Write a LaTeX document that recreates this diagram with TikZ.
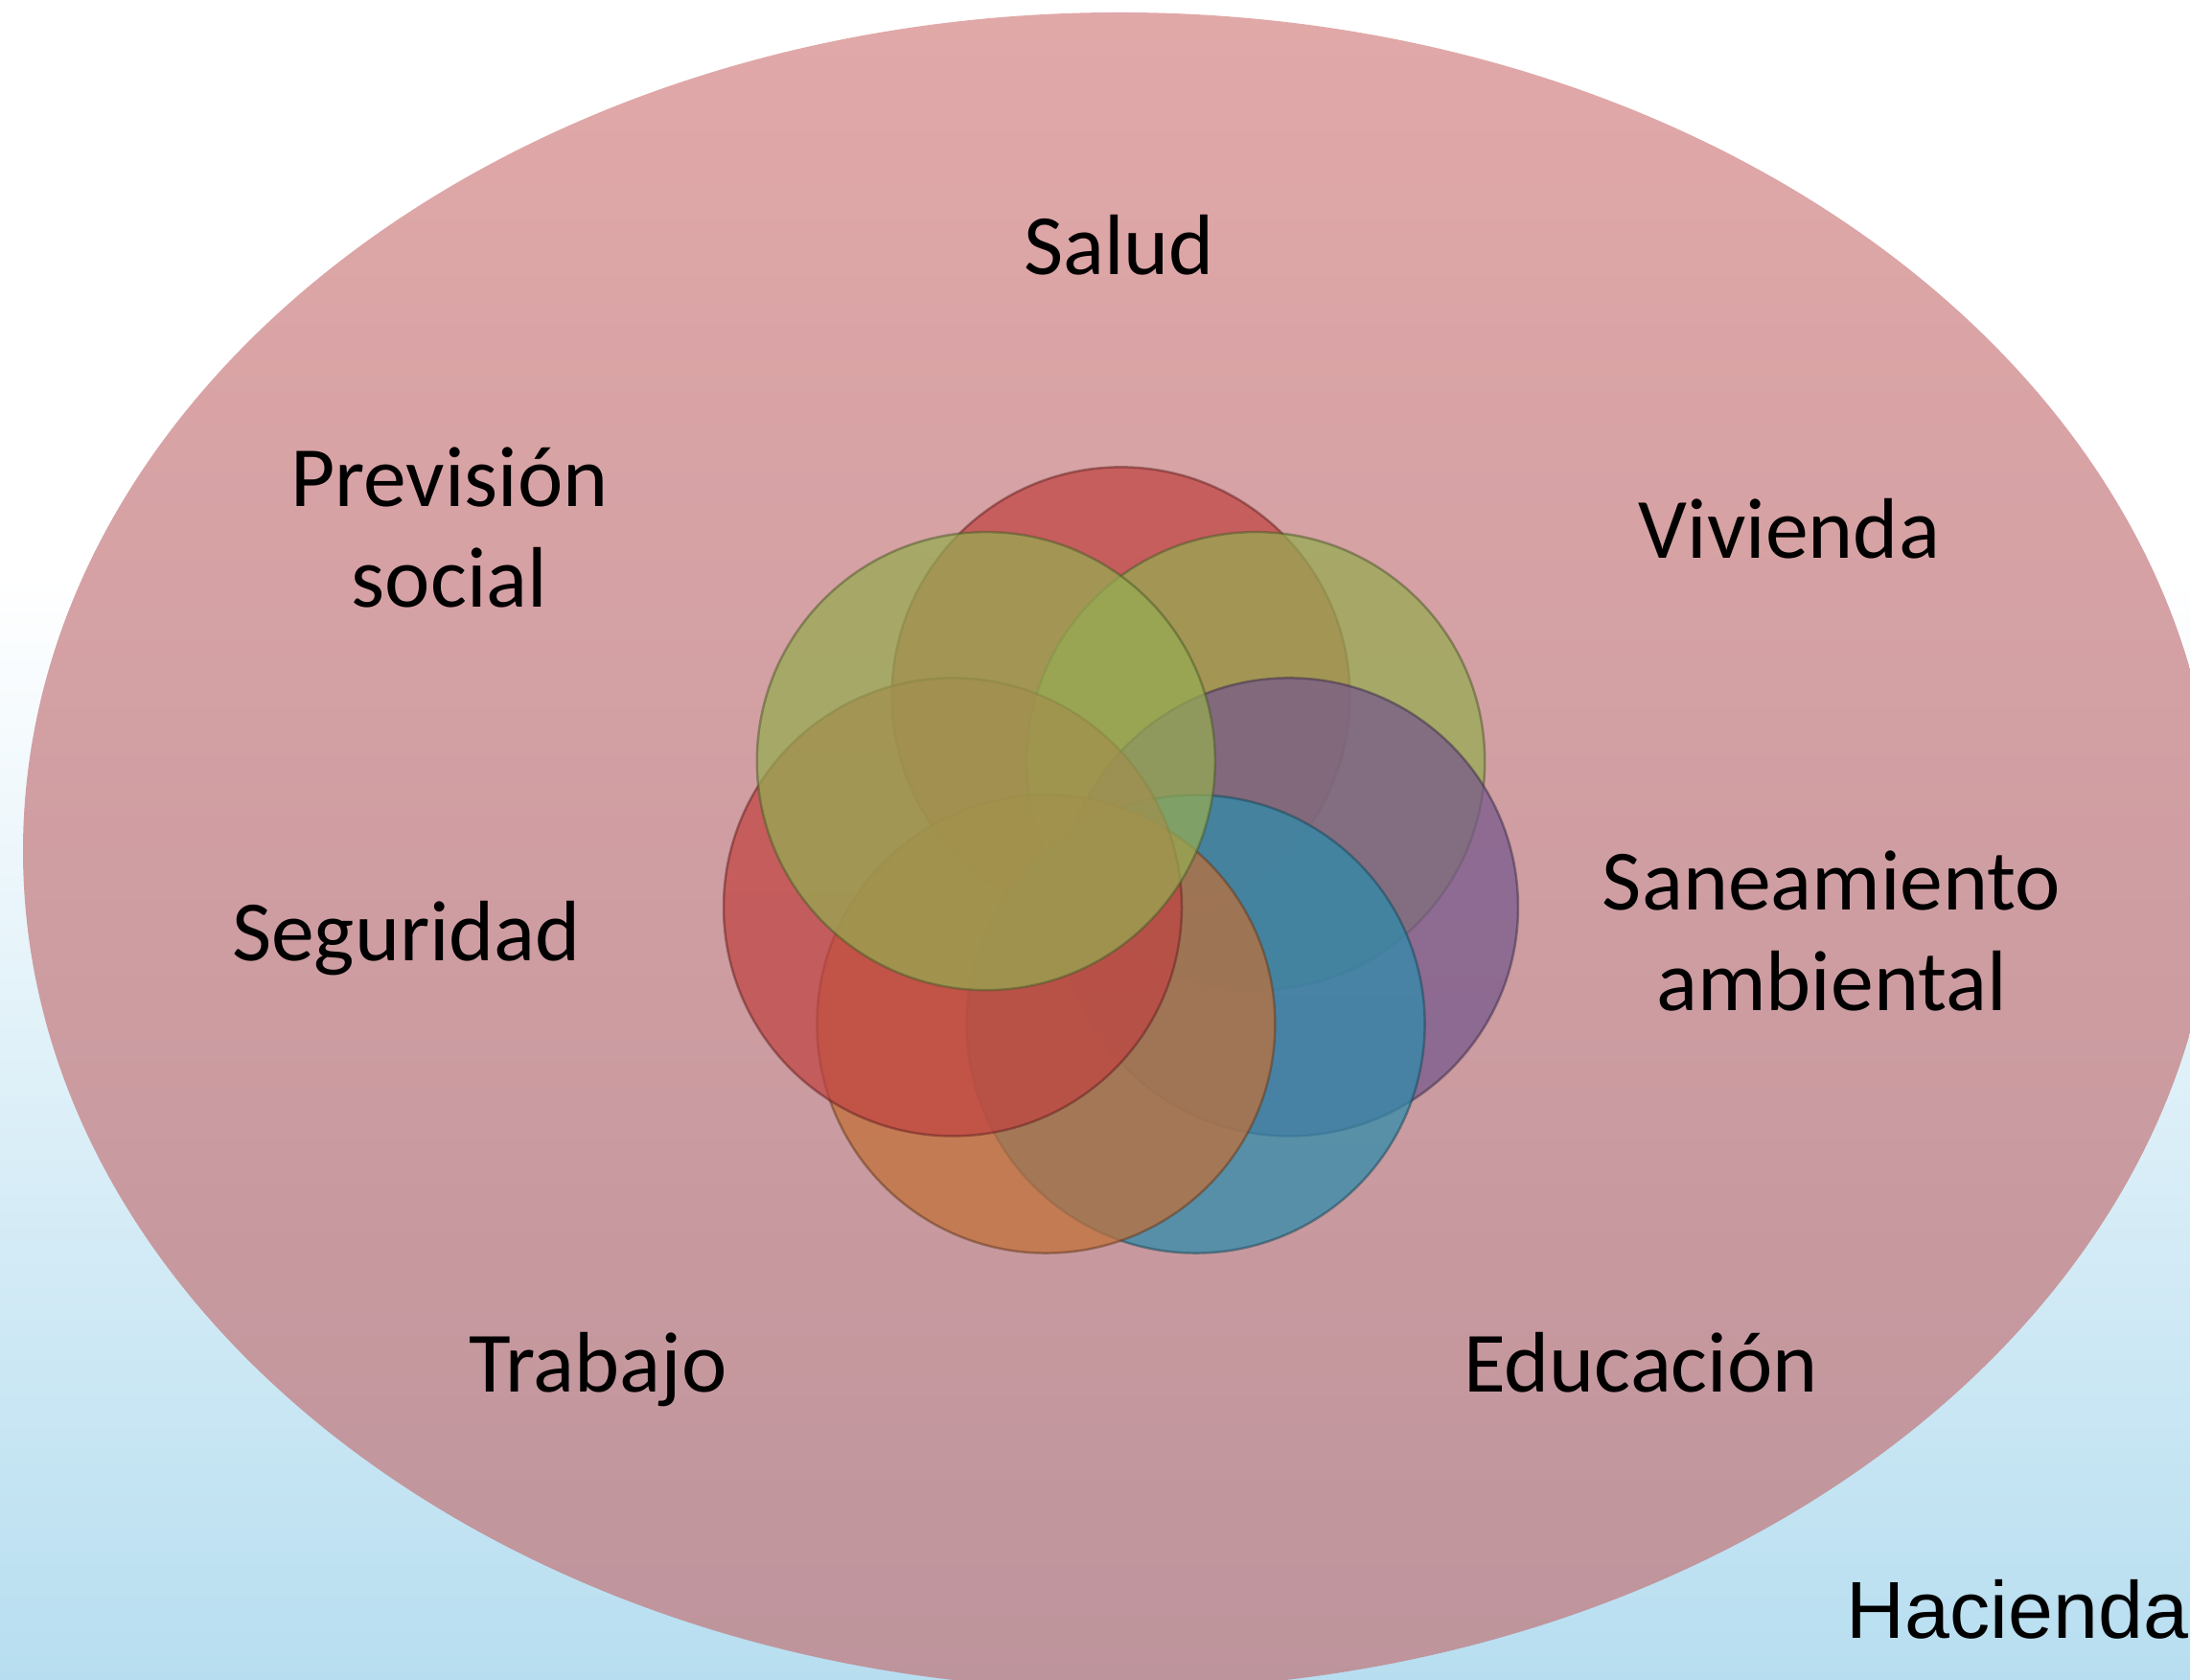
\documentclass[tikz,border=0pt]{standalone}
\usepackage{fontspec}
\setmainfont{Carlito}
\newfontfamily\arialfont{Liberation Sans}
\definecolor{bgblue}{RGB}{183,222,240}
\definecolor{elltop}{RGB}{225,168,168}
\definecolor{ellbot}{RGB}{190,148,156}
\definecolor{vred}{RGB}{192,68,66}
\definecolor{volive}{RGB}{150,172,82}
\definecolor{vpurple}{RGB}{118,88,140}
\definecolor{vblue}{RGB}{45,140,172}
\definecolor{vorange}{RGB}{194,112,56}
\tikzset{
  venn/.style={circle, minimum size=4.78cm, inner sep=0pt, fill=#1, draw=#1!50!black,
    fill opacity=0.72, draw opacity=0.5, line width=0.7pt},
  lbl/.style={font=\fontsize{25.5}{30}\selectfont, anchor=base, align=center, inner sep=0pt, text=black},
}
\begin{document}
\begin{tikzpicture}
\useasboundingbox (0,0) rectangle (22.85,17.53);
\clip (0,0) rectangle (22.85,17.53);
% background
\fill[white] (0,11.4) rectangle (22.85,17.53);
\shade[top color=white, bottom color=bgblue] (0,0) rectangle (22.85,11.53);
% big ellipse
\shade[top color=elltop, bottom color=ellbot] (11.68,8.65) ellipse [x radius=11.44, y radius=8.75];
% venn circles
\coordinate (C) at (11.695,8.466);
\node[venn=vred]    (c-salud)  at ([shift={(90:1.80)}]C) {};
\node[venn=volive]  (c-viv)    at ([shift={(38.571:1.80)}]C) {};
\node[venn=vpurple] (c-san)    at ([shift={(-12.857:1.80)}]C) {};
\node[venn=vblue]   (c-edu)    at ([shift={(-64.286:1.80)}]C) {};
\node[venn=vorange] (c-trab)   at ([shift={(-115.714:1.80)}]C) {};
\node[venn=vred]    (c-seg)    at ([shift={(-167.143:1.80)}]C) {};
\node[venn=volive]  (c-prev)   at ([shift={(141.429:1.80)}]C) {};
% labels
\node[lbl] (t-salud) at (11.675,14.66) {Salud};
\node[lbl] (t-prev)  at (4.69,11.19) {Previsión\\social};
\node[lbl] (t-viv)   at (18.67,11.70) {Vivienda};
\node[lbl] (t-san)   at (19.11,6.98) {Saneamiento\\ambiental};
\node[lbl] (t-seg)   at (4.24,7.50) {Seguridad};
\node[lbl] (t-trab)  at (6.24,3.00) {Trabajo};
\node[lbl] (t-edu)   at (17.12,3.00) {Educación};
\node[anchor=base west, inner sep=0pt, font=\arialfont\fontsize{24}{28}\selectfont] (t-hac) at (19.26,0.43) {Hacienda};
\end{tikzpicture}
\end{document}
